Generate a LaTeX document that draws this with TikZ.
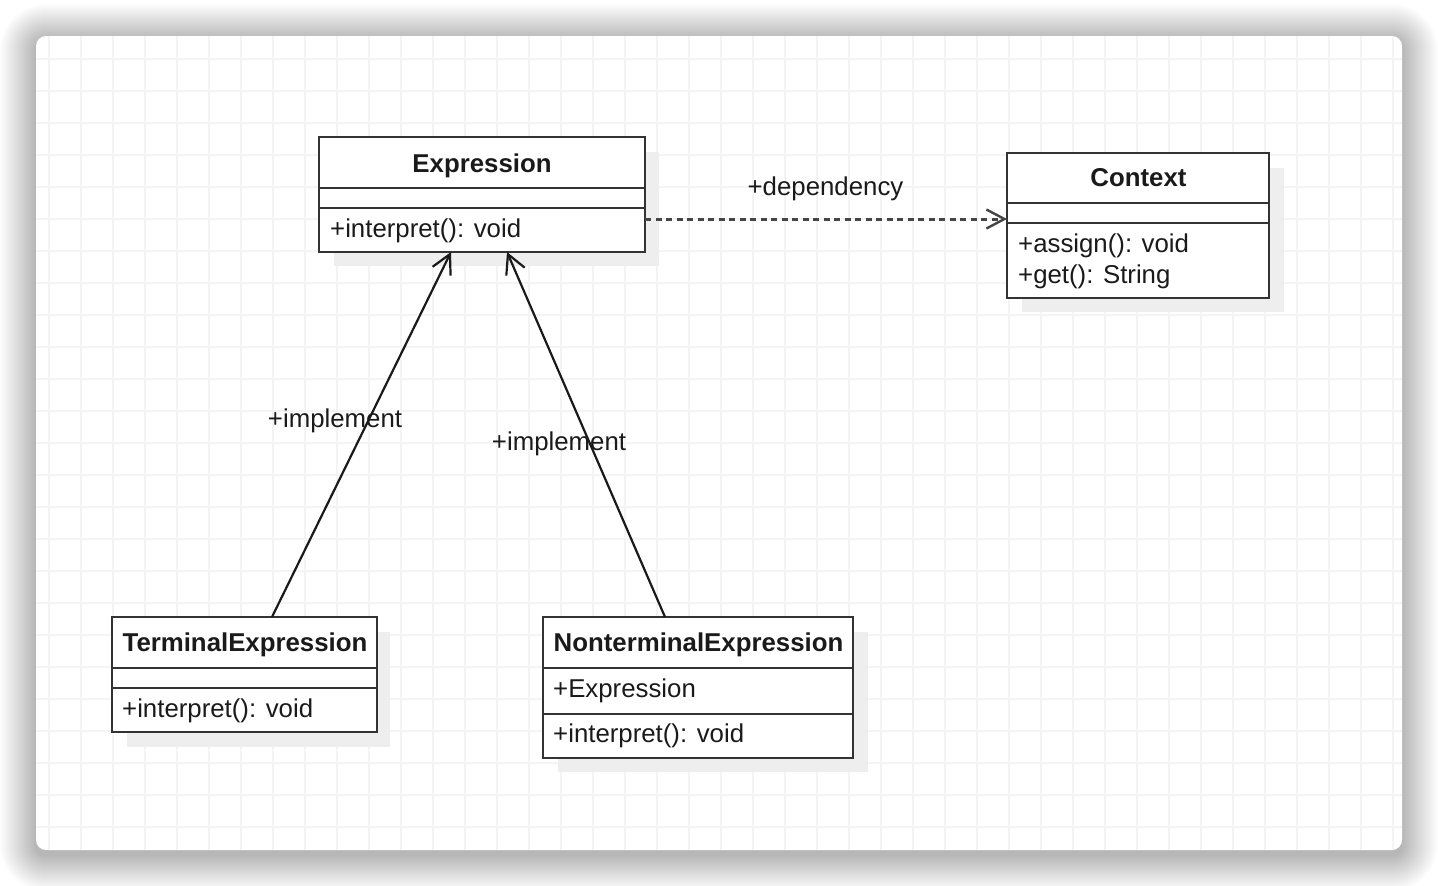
\documentclass[tikz,border=0pt]{standalone}
\usepackage{fontspec}
\setmainfont{Liberation Sans}
\usetikzlibrary{arrows.meta,calc}
\definecolor{boxline}{HTML}{333333}
\definecolor{gridc}{HTML}{F4F4F4}
\definecolor{shadec}{HTML}{EEEEEE}
\definecolor{txt}{HTML}{1A1A1A}
\definecolor{dashc}{HTML}{454545}
\begin{document}
\begin{tikzpicture}[x=1pt,y=-1pt,
  umlbox/.style={draw=boxline,line width=2.8pt,fill=white,inner sep=0pt,outer sep=0pt,anchor=north west},
  boxshadow/.style={fill=shadec},
  divider/.style={draw=boxline,line width=2.8pt},
  titletext/.style={font=\fontsize{25.8}{30}\selectfont\bfseries,text=txt,inner sep=0pt,anchor=base},
  member/.style={font=\fontsize{25.8}{30}\selectfont,text=txt,inner sep=0pt,anchor=base west},
  conlabel/.style={font=\fontsize{25.8}{30}\selectfont,text=txt,inner sep=0pt,anchor=base},
  conn/.style={draw=txt,line width=2.2pt,-{Straight Barb[length=19pt,width=20pt,line width=2.2pt]}},
  depconn/.style={draw=dashc,line width=3pt,dash pattern=on 6pt off 4.5pt,-{Straight Barb[length=18pt,width=19pt,line width=2.4pt]}},
]
\useasboundingbox (0,0) rectangle (1438,886);
\fill[white] (0,0) rectangle (1438,886);
% card shadow
\foreach \i in {1,...,36}{
  \pgfmathsetmacro\rr{10+\i}
  \fill[black,opacity=0.0062,rounded corners=\rr pt] (36-\i,40-\i) rectangle (1402+\i,855+\i);
}
% card
\fill[white,rounded corners=10pt] (36,36) rectangle (1402,850);
\begin{scope}
  \clip[rounded corners=10pt] (36,36) rectangle (1402,850);
  \foreach \x in {49,81,...,1401} \draw[gridc,line width=1.2pt] (\x,36) -- (\x,850);
  \foreach \y in {59,91,...,849} \draw[gridc,line width=1.2pt] (36,\y) -- (1402,\y);
\end{scope}
% box shadows
\fill[boxshadow] (334,152) rectangle (659,266);
\fill[boxshadow] (1022,168) rectangle (1284,312);
\fill[boxshadow] (127,632) rectangle (390,747);
\fill[boxshadow] (558,632) rectangle (868,772);
% Expression
\node[umlbox,minimum width=326pt,minimum height=115pt] (expr) at (319,137) {};
\draw[divider] (319,188) -- (645,188);
\draw[divider] (319,208) -- (645,208);
\node[titletext] (exprT) at (482,172) {Expression};
\node[member] (exprM) at (330,237) {+interpret(): void};
% Context
\node[umlbox,minimum width=262pt,minimum height=145pt] (ctx) at (1007,153) {};
\draw[divider] (1007,203) -- (1269,203);
\draw[divider] (1007,223) -- (1269,223);
\node[titletext] (ctxT) at (1138.5,186) {Context};
\node[member] (ctxM1) at (1018,252) {+assign(): void};
\node[member] (ctxM2) at (1018,283) {+get(): String};
% TerminalExpression
\node[umlbox,minimum width=265pt,minimum height=115pt] (term) at (112,617) {};
\draw[divider] (112,668) -- (377,668);
\draw[divider] (112,688) -- (377,688);
\node[titletext] (termT) at (245,651) {TerminalExpression};
\node[member] (termM) at (122,717) {+interpret(): void};
% NonterminalExpression
\node[umlbox,minimum width=310pt,minimum height=141pt] (nonterm) at (543,617) {};
\draw[divider] (543,668) -- (853,668);
\draw[divider] (543,714) -- (853,714);
\node[titletext] (nontermT) at (698.5,651) {NonterminalExpression};
\node[member] (nontermA) at (553,697) {+Expression};
\node[member] (nontermM) at (553,742) {+interpret(): void};
% connector end points
\coordinate (exprL) at ($(expr.south west)+(132,0)$);
\coordinate (exprR) at ($(expr.south west)+(188,0)$);
\coordinate (termTop) at ($(term.north west)+(160,0)$);
\coordinate (nontermTop) at ($(nonterm.north west)+(122,0)$);
\coordinate (exprDep) at ($(expr.north east)+(0,82)$);
\coordinate (ctxDep) at ($(ctx.north west)+(0,66)$);
% connectors
\draw[conn] (termTop) -- (exprL);
\draw[conn] (nontermTop) -- (exprR);
\draw[depconn] (exprDep) -- (ctxDep);
% labels
\node[conlabel] (lblDep) at (825.5,195) {+dependency};
\node[conlabel] (lblImpL) at (335,427) {+implement};
\node[conlabel] (lblImpR) at (559,450) {+implement};
\end{tikzpicture}
\end{document}
